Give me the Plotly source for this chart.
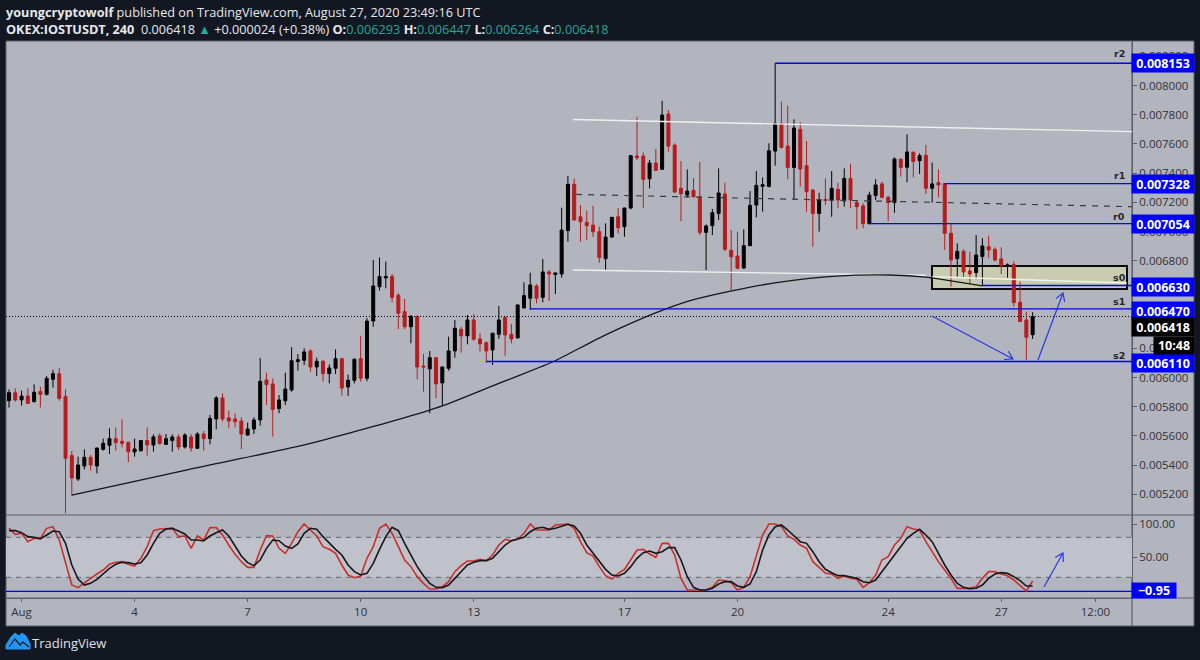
import numpy as np
import plotly.graph_objects as go

# ---------- data (prices in millionths of USDT) ----------
opens = [5841,5896,5846,5873,5835,5905,5885,5988,6026,5871,
 5465,5305,5394,5453,5394,5508,5536,5581,5563,5556,
 5490,5499,5568,5538,5600,5542,5568,5593,5524,5593,
 5515,5613,5581,5716,5860,5723,5716,5702,5606,5647,
 5709,5983,5956,5787,5841,5915,6109,6118,6182,6072,
 6111,6027,6063,6129,5935,5981,6129,5995,6387,6622,
 6682,6691,6563,6451,6348,6419,6079,6059,6136,5963,
 6063,6182,6330,6285,6394,6264,6239,6189,6296,6412,
 6296,6271,6476,6543,6627,6549,6723,6705,6709,7006,
 7323,7101,7063,7044,6999,6814,6962,7101,7033,7161,
 7517,7517,7362,7469,7426,7805,7592,7296,7250,7282,
 7238,6994,7040,7124,7257,6871,6832,6750,6903,7181,
 7309,7309,7551,7741,7585,7439,7700,7451,7284,7124,
 7220,7216,7289,7209,7364,7198,7175,7054,7246,7326,
 7234,7198,7495,7440,7543,7485,7522,7296,7335,7328,
 6988,6814,6864,6730,6718,6828,6896,6878,6812,6766,
 6773,6515,6394,6293]
closes = [5896,5846,5873,5823,5899,5885,5994,6026,5857,5447,
 5312,5401,5453,5401,5517,5549,5581,5554,5549,5492,
 5510,5568,5538,5593,5549,5581,5593,5524,5606,5517,
 5613,5581,5720,5860,5716,5702,5698,5613,5647,5709,
 5974,5951,5782,5846,5921,6115,6122,6175,6072,6111,
 6027,6065,6129,5928,5981,6125,5995,6387,6627,6691,
 6691,6549,6440,6348,6419,6072,6072,6136,5956,6072,
 6182,6337,6285,6394,6262,6230,6182,6303,6394,6291,
 6264,6497,6561,6634,6543,6723,6709,6716,7010,7323,
 7079,7067,7040,6999,6821,6962,7097,7026,7161,7519,
 7506,7357,7469,7419,7798,7585,7270,7259,7277,7238,
 6994,7038,7129,7264,6878,6827,6748,6903,7179,7316,
 7321,7553,7741,7576,7439,7709,7428,7273,7124,7216,
 7213,7296,7216,7364,7216,7170,7054,7250,7319,7234,
 7198,7497,7440,7545,7479,7520,7296,7326,7319,6988,
 6805,6864,6723,6709,6839,6901,6874,6805,6766,6771,
 6513,6383,6276,6418]
highs = [5919,5926,5910,5926,5953,5937,6010,6052,6065,5919,
 5497,5458,5508,5469,5520,5581,5652,5659,5714,5560,
 5581,5572,5659,5611,5618,5613,5611,5611,5618,5611,
 5625,5634,5743,5873,5892,5773,5755,5727,5691,5727,
 6134,6033,5994,5880,6033,6207,6161,6200,6193,6136,
 6120,6090,6193,6135,6020,6132,6285,6406,6805,6821,
 6794,6709,6577,6538,6428,6425,6161,6182,6140,6076,
 6280,6394,6348,6428,6433,6303,6245,6307,6490,6417,
 6367,6501,6652,6718,6640,6812,6737,6720,7163,7380,
 7364,7181,7143,7175,7033,7056,7100,7161,7163,7524,
 7786,7542,7490,7565,7896,7832,7604,7483,7426,7366,
 7476,7049,7154,7432,7334,7010,6999,7015,7277,7414,
 7371,7604,8153,7889,7862,7768,7748,7620,7290,7266,
 7364,7414,7334,7433,7463,7216,7193,7273,7358,7342,
 7246,7508,7501,7666,7547,7536,7593,7472,7426,7332,
 7052,6919,6878,6862,6976,6954,6972,6892,6892,6782,
 6794,6657,6451,6447]
lows = [5794,5835,5807,5820,5828,5794,5876,5931,5841,5070,
 5193,5291,5371,5362,5344,5499,5476,5499,5520,5421,
 5458,5492,5465,5492,5540,5540,5492,5504,5513,5492,
 5510,5499,5542,5645,5698,5652,5659,5510,5600,5613,
 5670,5812,5595,5755,5812,5903,6047,6086,6040,6011,
 5972,5960,6024,5876,5874,5960,5972,5974,6348,6595,
 6611,6515,6332,6332,6234,5988,5903,5755,5858,5805,
 6047,6136,6170,6227,6253,6177,6102,6086,6264,6148,
 6234,6269,6474,6463,6508,6515,6524,6572,6684,6930,
 7074,6930,6942,6964,6786,6732,6957,6987,6964,7152,
 7490,7163,7296,7414,7421,7547,7265,7072,7234,7234,
 6976,6736,6976,7079,6866,6599,6745,6745,6900,7097,
 7136,7302,7451,7569,7359,7216,7307,7136,6896,6999,
 7181,7101,7159,7170,7159,7015,7022,7050,7216,7227,
 7072,7129,7376,7337,7371,7394,7257,7198,7234,6874,
 6622,6691,6686,6641,6673,6630,6817,6794,6709,6684,
 6486,6380,6120,6264]

stoch_k = [93.5,84.5,86,73.5,78.5,78.5,93.5,96,76,41,8.5,4.5,12,18.5,25,31,39.5,42.5,43.5,39.5,
 37,48.5,66,90,92.5,93.5,93.5,81,82,63.5,82,76,94.5,94.5,83.5,68.5,54.5,43.5,35,35,
 61,82.5,82,63.5,56,71,88.5,100,91,82,66,62,56,38.5,23.5,19.5,22,48.5,66,93.5,
 100,86,66,46,36,21,11,2.5,2.5,6,13.5,28.5,37.5,44.5,44.5,47,45,53.5,68.5,77,
 75,77,86,100,91,91,91,98.5,99.5,100,93.5,73.5,57,52,36,22.5,17.5,26,32,46,
 61,62,55,50,71,71,53.5,18.5,1,1,1,1,5,16,15,12,1,5,21,53.5,
 83.5,100,100,96,82,77,68.5,63.5,43.5,35,26,25,18.5,22,18.5,17,5,12,23.5,46,
 51,68.5,78.5,96,92.5,91,73.5,58.5,43.5,31,18.5,3.5,3.5,3.5,6,18.5,28.5,28.5,25,22.5,
 16,7,-0.5,14.5]
stoch_d = [90,90,87,81,80,77.5,83.5,89.5,88.5,71,38.5,17.5,8.5,11,17,25,33.5,39.5,42.5,42,
 40,42,53.5,71,86,92.5,93.5,89.5,85,76,76,74.5,82,87,91,82,67,52,42,37.5,
 46,63.5,76,75,67,63.5,70,86,93.5,92,81,71,62,53.5,38.5,28.5,23.5,26,41,62,
 81,95,90,71,53.5,36,22.5,11,5,4.5,8.5,18.5,29.5,38.5,42.5,45,45,48.5,58.5,68.5,
 75,77,80,88.5,93.5,95,92,93.5,96,99.5,97,86,68.5,56,43.5,32,23.5,22,26,36,
 48.5,57,59.5,56,58.5,64.5,64.5,46,21,5,1,1,3.5,10,13.5,13.5,7,5,10,28.5,
 61,83.5,96,98.5,91,82,73.5,71,58.5,43.5,32,27,22.5,22.5,20,18.5,13.5,12,16,28.5,
 41,53.5,67,78.5,86,92,83.5,73.5,56,38.5,23.5,11,5,3,3.5,8.5,18.5,25,27,26,
 21,15,7,7]

curve_idx = [10,28.2,46.3,61.8,69,77,84.6,86.9,94.6,101.3,104.1,108.9,115.1,122.8,131.8,140.3,146,147,155]
curve_val = [5195,5366,5531,5709,5805,5942,6072,6113,6284,6414,6462,6531,6593,6654,6695,6702,6688,6682,6627]

level_names = ["r2","r1","r0","s0","s1","s2"]
level_vals = [8153,7328,7054,6630,6470,6110]
level_start = [122,149,137,155,83,76]

tick_idx = [2,20,38,56,74,98,116,140,158,173]
tick_txt = ["Aug","4","7","10","13","17","20","24","27","12:00"]
price_ticks = [5200 + 200*k for k in range(16)]

last_price = 6418
stoch_level = -0.95

# ---------- styling ----------
W, H = 1200, 660
L, R = 6, 1132
T, M, B = 41, 515, 598
FRAME_R, FRAME_B = 1194, 626
BG = "#131722"; PANEL = "#b2b5be"; BAND = "#bfc2ca"; EDGE = "#5d606b"
BLUE = "#0000f5"; ARROW = "#2a38e6"; RED = "#b71c1c"; TXT = "#30323a"
FONT = "Open Sans"

def px(x): return x / W
def py(y): return 1 - y / H

idx = np.arange(len(opens))
scale = 1e-6
x0, x1 = (L - 9) / 6.28, (R - 9) / 6.28
p_top = 6000 + (377.5 - T) * 6.85
p_bot = 6000 + (377.5 - M) * 6.85

fig = go.Figure()
fig.add_trace(go.Candlestick(x=idx, open=np.array(opens)*scale, high=np.array(highs)*scale,
    low=np.array(lows)*scale, close=np.array(closes)*scale,
    increasing=dict(line=dict(color="#000000", width=1), fillcolor="#000000"),
    decreasing=dict(line=dict(color=RED, width=1), fillcolor=RED),
    whiskerwidth=0, xaxis="x", yaxis="y", hoverinfo="skip"))

# trend lines
fig.add_trace(go.Scatter(x=[89.8,178.8], y=[7767e-6,7684e-6], mode="lines",
    line=dict(color="#eef0f2", width=1.4), xaxis="x", yaxis="y"))
fig.add_trace(go.Scatter(x=[89.8,146], y=[6736e-6,6700e-6], mode="lines",
    line=dict(color="#eef0f2", width=1.4), xaxis="x", yaxis="y"))
fig.add_trace(go.Scatter(x=[147,178], y=[6690e-6,6647e-6], mode="lines",
    line=dict(color="#f2f2e4", width=1.4), xaxis="x", yaxis="y"))
fig.add_trace(go.Scatter(x=[90.3,178.8], y=[7254e-6,7170e-6], mode="lines",
    line=dict(color="#3a3c44", width=1.2, dash="6px,6px"), xaxis="x", yaxis="y"))
# curve
fig.add_trace(go.Scatter(x=curve_idx, y=np.array(curve_val)*scale, mode="lines",
    line=dict(color="#15161a", width=1.3, shape="spline", smoothing=0.6), xaxis="x", yaxis="y"))
# levels
for name, v, s in zip(level_names, level_vals, level_start):
    fig.add_trace(go.Scatter(x=[s, x1], y=[v*scale, v*scale], mode="lines",
        line=dict(color=BLUE, width=1.4), xaxis="x", yaxis="y"))
# last price line
fig.add_trace(go.Scatter(x=[x0, x1], y=[last_price*scale]*2, mode="lines",
    line=dict(color="#000000", width=1, dash="1px,2px"), xaxis="x", yaxis="y"))

# stochastic
fig.add_trace(go.Scatter(x=[x0,x1], y=[stoch_level]*2, mode="lines",
    line=dict(color=BLUE, width=1.3), xaxis="x2", yaxis="y2"))
fig.add_trace(go.Scatter(x=idx, y=stoch_k, mode="lines",
    line=dict(color="#c9302c", width=1.6), xaxis="x2", yaxis="y2"))
fig.add_trace(go.Scatter(x=idx, y=stoch_d, mode="lines",
    line=dict(color="#17181c", width=1.6), xaxis="x2", yaxis="y2"))

tickf = dict(family=FONT, size=11.5, color=TXT)
fig.update_layout(
    width=W, height=H, autosize=False, showlegend=False,
    margin=dict(l=0, r=0, t=0, b=0), paper_bgcolor=BG, plot_bgcolor="rgba(0,0,0,0)",
    boxgap=0.32, hovermode=False,
    xaxis=dict(domain=[px(L), px(R)], range=[x0, x1], anchor="y", rangeslider=dict(visible=False),
        showgrid=False, zeroline=False, showticklabels=False, ticks=""),
    yaxis=dict(domain=[py(M), py(T)], range=[p_bot*scale, p_top*scale], side="right", anchor="x",
        tickvals=[p*scale for p in price_ticks], tickformat=".6f", tickfont=tickf,
        ticks="outside", ticklen=4, tickcolor=EDGE, showgrid=False, zeroline=False,
        showline=True, linecolor=EDGE, linewidth=1),
    xaxis2=dict(domain=[px(L), px(R)], range=[x0, x1], anchor="y2", showgrid=False, zeroline=False,
        tickvals=tick_idx, ticktext=tick_txt, tickfont=tickf, ticks="outside", ticklen=3, tickcolor=EDGE,
        showline=True, linecolor=EDGE, linewidth=1),
    yaxis2=dict(domain=[py(B), py(M)], range=[-11, 113.5], side="right", anchor="x2",
        tickvals=[50, 100], tickformat=".2f", tickfont=tickf, ticks="outside", ticklen=4, tickcolor=EDGE,
        showgrid=False, zeroline=False, showline=True, linecolor=EDGE, linewidth=1),
)

shapes = []
# frame
shapes.append(dict(type="rect", xref="paper", yref="paper", x0=px(L), x1=px(FRAME_R), y0=py(FRAME_B), y1=py(T),
    fillcolor=PANEL, line=dict(color=EDGE, width=1), layer="below"))
# stochastic band
shapes.append(dict(type="rect", xref="x2", yref="y2", x0=x0, x1=x1, y0=20, y1=80,
    fillcolor=BAND, line=dict(width=0), layer="below"))
for lv in (20, 80):
    shapes.append(dict(type="line", xref="x2", yref="y2", x0=x0, x1=x1, y0=lv, y1=lv,
        line=dict(color="#63656d", width=1, dash="5px,5px"), layer="below"))
# pane separators
for y in (M, B):
    shapes.append(dict(type="line", xref="paper", yref="paper", x0=px(L), x1=px(FRAME_R), y0=py(y), y1=py(y),
        line=dict(color=EDGE, width=1.2), layer="below"))
shapes.append(dict(type="line", xref="paper", yref="paper", x0=px(R), x1=px(R), y0=py(FRAME_B), y1=py(T),
    line=dict(color=EDGE, width=1.2), layer="below"))
# supply box
shapes.append(dict(type="rect", xref="paper", yref="paper", x0=px(932), x1=px(1127), y0=py(289), y1=py(266),
    fillcolor="#c9cbb0", line=dict(color="#0a0a0a", width=2), layer="below"))

def arrow(xa, ya, xb, yb, head=9):
    ang = np.arctan2(yb - ya, xb - xa)
    pts = []
    for da in (2.6, -2.6):
        pts.append((xb + head*np.cos(ang+da), yb + head*np.sin(ang+da)))
    def P(x, y): return f"{px(x):.5f},{py(y):.5f}"
    return dict(type="path", xref="paper", yref="paper",
        path=f"M{P(xa,ya)} L{P(xb,yb)} M{P(*pts[0])} L{P(xb,yb)} L{P(*pts[1])}",
        line=dict(color=ARROW, width=1.2), layer="above")
shapes += [arrow(932,316,1013,359), arrow(1038,360,1063,293), arrow(1044,587,1063,553)]

# TradingView logo
def logo():
    pts = [(6,645),(11,637),(15,633),(19,636),(22,633),(26,636),(30,644),(30,649),(6,649)]
    path = "M" + " L".join(f"{px(x):.5f},{py(y):.5f}" for x,y in pts) + " Z"
    return dict(type="path", xref="paper", yref="paper", path=path, fillcolor="#2196f3",
                line=dict(color="#2196f3", width=1), layer="above")
shapes.append(logo())
zig = [(9,647),(15,639),(20,645),(23,642),(29,647)]
shapes.append(dict(type="path", xref="paper", yref="paper",
    path="M" + " L".join(f"{px(x):.5f},{py(y):.5f}" for x,y in zig),
    line=dict(color=BG, width=1.2), layer="above"))
fig.update_layout(shapes=shapes)

ann = []
def label(text, xc, yc, w, h, bg, color="#ffffff", size=12.5):
    ann.append(dict(text=f"<b>{text}</b>", xref="paper", yref="paper", x=px(xc), y=py(yc), xanchor="center",
        yanchor="middle", showarrow=False, width=w, height=h, bgcolor=bg, borderpad=0,
        font=dict(family=FONT, size=size, color=color), align="center", valign="middle"))

centres = {"r2":63, "r1":184, "r0":224, "s0":287, "s1":310.5, "s2":363}
for name, v in zip(level_names, level_vals):
    label(f"{v*scale:.6f}", 1162.5, centres[name], 62, 18, "#0000ff")
    y_txt = {"r2":54, "r1":175.5, "r0":216, "s0":278, "s1":302, "s2":355}[name]
    ann.append(dict(text=f"<b>{name}</b>", xref="paper", yref="paper", x=px(1119), y=py(y_txt), xanchor="center",
        yanchor="middle", showarrow=False, font=dict(family="DejaVu Sans", size=9.5, color="#25262c")))
label(f"{last_price*scale:.6f}", 1162.5, 327, 62, 18, "#000000")
label("10:48", 1173.5, 345.5, 40, 17, "#000000")
label("\u22120.95", 1154, 590, 44, 15, "#0000ff")

TEAL = "#26a69a"
ann.append(dict(text="<b>youngcryptowolf</b> published on TradingView.com, August 27, 2020 23:49:16 UTC",
    xref="paper", yref="paper", x=px(4), y=py(11.5), xanchor="left", yanchor="middle", showarrow=False,
    font=dict(family=FONT, size=12.7, color="#e6e8ec")))
ann.append(dict(text=(f"<b>OKEX:IOSTUSDT, 240</b>  0.006418 <span style='color:{TEAL}'>\u25b2</span> +0.000024 (+0.38%) "
    f"<b>O:</b><span style='color:{TEAL}'>0.006293</span> <b>H:</b><span style='color:{TEAL}'>0.006447</span> "
    f"<b>L:</b><span style='color:{TEAL}'>0.006264</span> <b>C:</b><span style='color:{TEAL}'>0.006418</span>"),
    xref="paper", yref="paper", x=px(4), y=py(29), xanchor="left", yanchor="middle", showarrow=False,
    font=dict(family=FONT, size=12.7, color="#e6e8ec")))
ann.append(dict(text="TradingView", xref="paper", yref="paper", x=px(30), y=py(643), xanchor="left", yanchor="middle",
    showarrow=False, font=dict(family=FONT, size=13, color="#dfe1e6")))
fig.update_layout(annotations=ann)

fig.write_html("out.html", config=dict(displayModeBar=False),
    post_script="document.body.style.margin='0';document.body.style.background='#131722';document.documentElement.style.overflow='hidden';")
